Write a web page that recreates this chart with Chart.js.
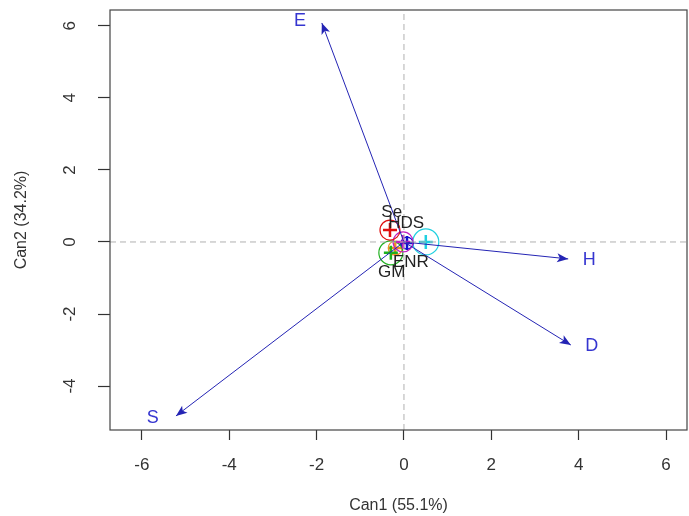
<!DOCTYPE html>
<html>
<head>
<meta charset="utf-8">
<script src="https://cdn.jsdelivr.net/npm/chart.js@4.4.0/dist/chart.umd.min.js"></script>
<style>
  html, body { margin: 0; padding: 0; background: #fff; }
  #wrap { width: 689px; height: 516px; }
</style>
</head>
<body>
<div id="wrap"><canvas id="theChart"></canvas></div>
<script>
'use strict';

// variable vectors (structure coefficients)
let varNames = ['E', 'H', 'D', 'S'];
let varX = [-1.88, 3.76, 3.82, -5.22];
let varY = [6.08, -0.47, -2.86, -4.83];
let varLabelX = [-2.38, 4.24, 4.3, -5.75];
let varLabelY = [6.14, -0.5, -2.89, -4.89];

// group means
let groupX = [-0.32, -0.02, 0.07, 0.5, -0.3, -0.2];
let groupY = [0.33, 0.0, -0.03, 0.0, -0.3, -0.17];

// group labels
let groupNames = ['Se', 'HDS', 'ENR', 'GM'];
let groupLabelX = [-0.28, 0.05, 0.16, -0.28];
let groupLabelY = [0.81, 0.53, -0.56, -0.83];

let xTicks = [-6, -4, -2, 0, 2, 4, 6];
let yTicks = [-4, -2, 0, 2, 4, 6];
let xRange = [-6.73, 6.48];
let yRange = [-5.22, 6.44];

let groupColors = ['#e01010', '#c020c0', '#1010d0', '#20d0e0', '#20b020', '#f09020'];
let groupRadius = [10, 10, 6, 13, 12, 7];
let arrowColor = '#2424b4';
let fontFam = '"Liberation Sans", Arial, sans-serif';

let datasets = [];

// dashed reference lines
datasets.push({
    data: [{ x: xRange[0], y: 0 }, { x: xRange[1], y: 0 }],
    showLine: true, borderColor: '#b0b0b0', borderWidth: 1, borderDash: [6, 4], pointRadius: 0
});
datasets.push({
    data: [{ x: 0, y: yRange[0] }, { x: 0, y: yRange[1] }],
    showLine: true, borderColor: '#b0b0b0', borderWidth: 1, borderDash: [6, 4], pointRadius: 0
});

for (let i = 0; i < varNames.length; i++) {
    datasets.push({
        data: [{ x: 0, y: 0 }, { x: varX[i], y: varY[i] }],
        showLine: true, borderColor: arrowColor, borderWidth: 1, pointRadius: 0
    });
}

for (let i = 0; i < groupX.length; i++) {
    datasets.push({
        data: [{ x: groupX[i], y: groupY[i] }],
        pointStyle: 'circle', pointRadius: groupRadius[i], borderColor: groupColors[i],
        backgroundColor: 'rgba(0,0,0,0)', borderWidth: 1.2
    });
    datasets.push({
        data: [{ x: groupX[i], y: groupY[i] }],
        pointStyle: 'cross', pointRadius: 7, borderColor: groupColors[i], borderWidth: 2.5
    });
}

let extras = {
    id: 'extras',
    afterDatasetsDraw(chart) {
        let ctx = chart.ctx;
        let xs = chart.scales.x;
        let ys = chart.scales.y;
        let a = chart.chartArea;
        ctx.save();
        // arrowheads
        ctx.fillStyle = arrowColor;
        for (let i = 0; i < varNames.length; i++) {
            let x0 = xs.getPixelForValue(0), y0 = ys.getPixelForValue(0);
            let x1 = xs.getPixelForValue(varX[i]), y1 = ys.getPixelForValue(varY[i]);
            let ang = Math.atan2(y1 - y0, x1 - x0);
            let len = 12, w = 0.38;
            ctx.beginPath();
            ctx.moveTo(x1, y1);
            ctx.lineTo(x1 - len * Math.cos(ang - w), y1 - len * Math.sin(ang - w));
            ctx.lineTo(x1 - len * 0.7 * Math.cos(ang), y1 - len * 0.7 * Math.sin(ang));
            ctx.lineTo(x1 - len * Math.cos(ang + w), y1 - len * Math.sin(ang + w));
            ctx.closePath();
            ctx.fill();
        }
        ctx.textAlign = 'center';
        ctx.textBaseline = 'middle';
        ctx.font = '18px ' + fontFam;
        ctx.fillStyle = '#3535d0';
        for (let i = 0; i < varNames.length; i++) {
            ctx.fillText(varNames[i], xs.getPixelForValue(varLabelX[i]), ys.getPixelForValue(varLabelY[i]));
        }
        ctx.font = '17px ' + fontFam;
        ctx.fillStyle = '#222';
        for (let i = 0; i < groupNames.length; i++) {
            ctx.fillText(groupNames[i], xs.getPixelForValue(groupLabelX[i]), ys.getPixelForValue(groupLabelY[i]));
        }
        // box
        ctx.strokeStyle = '#444';
        ctx.lineWidth = 1.2;
        ctx.strokeRect(a.left, a.top, a.right - a.left, a.bottom - a.top);
        ctx.restore();
    }
};

let ctx = document.getElementById('theChart').getContext('2d');
let theChart = new Chart(ctx, {
    type: 'scatter',
    data: { datasets: datasets },
    options: {
        responsive: true,
        maintainAspectRatio: false,
        animation: false,
        layout: { autoPadding: false, padding: { top: 10, right: 2, left: 0, bottom: 0 } },
        plugins: { legend: { display: false }, tooltip: { enabled: false } },
        scales: {
            x: {
                type: 'linear', min: xRange[0], max: xRange[1],
                afterBuildTicks: s => { s.ticks = xTicks.map(v => ({ value: v })); },
                afterFit: s => { s.height = 86; s.paddingLeft = 0; s.paddingRight = 0; },
                grid: { drawOnChartArea: false, tickLength: 10, tickColor: '#333', tickWidth: 1.2 },
                border: { display: false },
                ticks: { color: '#333', padding: 15, font: { size: 17, family: fontFam }, maxRotation: 0 },
                title: { display: true, text: 'Can1 (55.1%)', color: '#333', padding: { top: 0, bottom: 1 }, font: { size: 16, family: fontFam } }
            },
            y: {
                type: 'linear', min: yRange[0], max: yRange[1],
                afterBuildTicks: s => { s.ticks = yTicks.map(v => ({ value: v })); },
                afterFit: s => { s.width = 110; s.paddingTop = 0; s.paddingBottom = 0; },
                grid: { drawOnChartArea: false, tickLength: 12, tickColor: '#333', tickWidth: 1.2 },
                border: { display: false },
                ticks: { color: '#333', padding: 20, crossAlign: 'center', minRotation: 90, maxRotation: 90, font: { size: 17, family: fontFam } },
                title: { display: true, text: 'Can2 (34.2%)', color: '#333', padding: { top: 12, bottom: 0 }, font: { size: 16, family: fontFam } }
            }
        }
    },
    plugins: [extras]
});
</script>
</body>
</html>
